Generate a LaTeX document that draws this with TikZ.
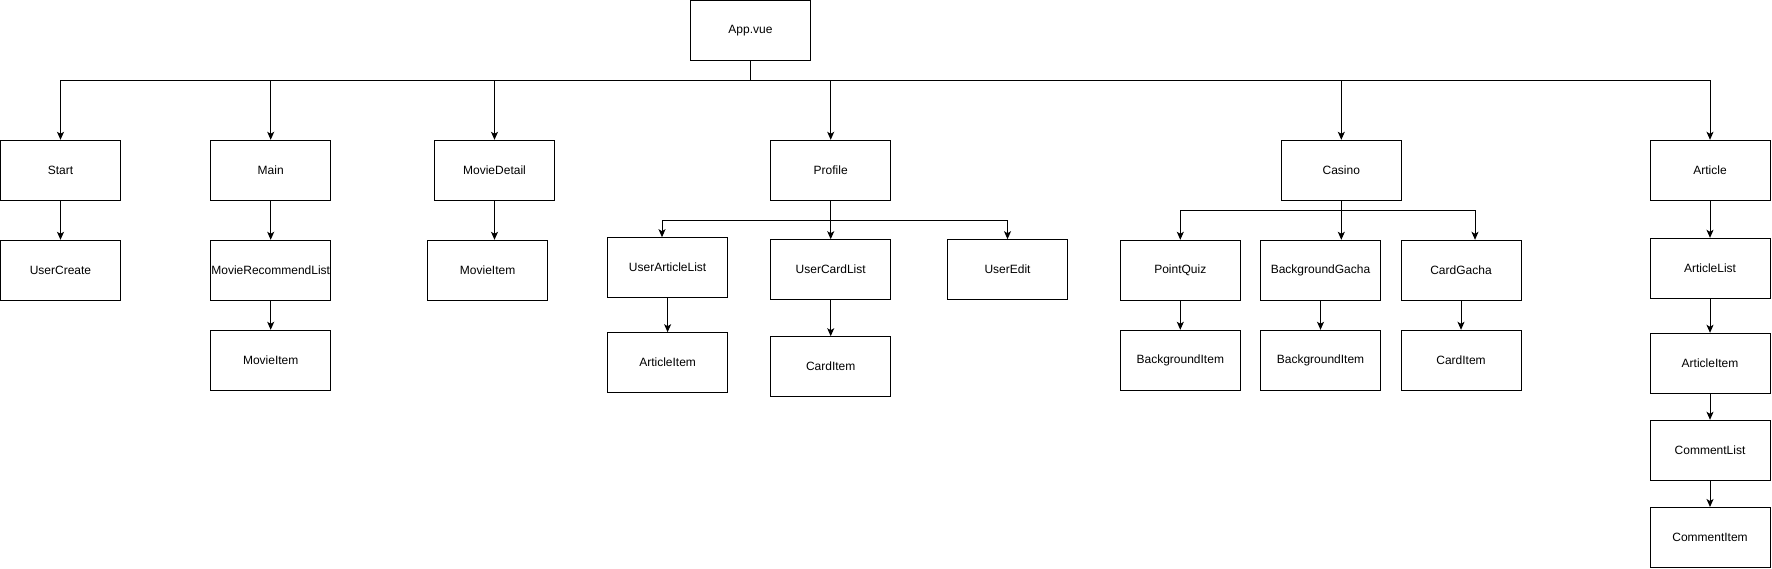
\documentclass[tikz,border=0pt]{standalone}
\usepackage{fontspec}
\setmainfont{Liberation Sans}
\usetikzlibrary{arrows.meta}
\begin{document}
\begin{tikzpicture}[x=1pt,y=-1pt,
  box/.style={draw=black,line width=1pt,minimum width=120pt,minimum height=60pt,inner sep=0pt,font=\fontsize{12}{14}\selectfont},
  arr/.style={draw=black,line width=1pt,-{Stealth[length=8pt,width=7pt,inset=2pt]}}]
\useasboundingbox (0,0) rectangle (1772,569);
% nodes
\node[box] (app) at (750.5,30.3) {App.vue};
\node[box] (start) at (60.5,170.3) {Start};
\node[box] (usercreate) at (60.5,270.3) {UserCreate};
\node[box] (main) at (270.7,170.3) {Main};
\node[box] (mrl) at (270.7,270.3) {MovieRecommendList};
\node[box] (mitemA) at (270.7,360.3) {MovieItem};
\node[box] (mdetail) at (494.5,170.3) {MovieDetail};
\node[box] (mitemB) at (487.6,270.3) {MovieItem};
\node[box] (profile) at (830.7,170.3) {Profile};
\node[box] (ual) at (667.6,267.7) {UserArticleList};
\node[box] (ucl) at (830.7,269.7) {UserCardList};
\node[box] (uedit) at (1007.5,269.7) {UserEdit};
\node[box] (aitemA) at (667.6,362.7) {ArticleItem};
\node[box] (citemA) at (830.7,366.7) {CardItem};
\node[box] (casino) at (1341.3,170.3) {Casino};
\node[box] (pq) at (1180.3,270.3) {PointQuiz};
\node[box] (bg) at (1320.5,270.3) {BackgroundGacha};
\node[box] (cg) at (1461,270.3) {CardGacha};
\node[box] (biA) at (1180.3,360.3) {BackgroundItem};
\node[box] (biB) at (1320.5,360.3) {BackgroundItem};
\node[box] (citemB) at (1461,360.3) {CardItem};
\node[box] (article) at (1710,170.3) {Article};
\node[box] (alist) at (1710,268.3) {ArticleList};
\node[box] (aitemB) at (1710,363.3) {ArticleItem};
\node[box] (clist) at (1710,450.3) {CommentList};
\node[box] (citemC) at (1710,537.5) {CommentItem};
% buses
\coordinate (bus) at (750.5,80.3);
\coordinate (pbus) at (830.7,220.3);
\coordinate (cbus) at (1341.3,210.3);
% top level
\foreach \t in {start,main,mdetail,profile,casino,article}
  \draw[arr] (app.south) -- (bus) -| (\t.north);
% straight chains
\draw[arr] (start.south) -- (usercreate.north);
\draw[arr] (main.south) -- (mrl.north);
\draw[arr] (mrl.south) -- (mitemA.north);
\draw[arr] (mdetail.south) -- (mdetail.south |- mitemB.north);
\draw[arr] (ual.south) -- (aitemA.north);
\draw[arr] (ucl.south) -- (citemA.north);
\draw[arr] (pq.south) -- (biA.north);
\draw[arr] (bg.south) -- (biB.north);
\draw[arr] (cg.south) -- (citemB.north);
\draw[arr] (article.south) -- (alist.north);
\draw[arr] (alist.south) -- (aitemB.north);
\draw[arr] (aitemB.south) -- (clist.north);
\draw[arr] (clist.south) -- (citemC.north);
% profile bus
\draw[arr] (profile.south) -- (pbus) -| ([xshift=-5.6pt]ual.north);
\draw[arr] (profile.south) -- (ucl.north);
\draw[arr] (profile.south) -- (pbus) -| (uedit.north);
% casino bus
\draw[arr] (casino.south) -- (cbus) -| (pq.north);
\draw[arr] (casino.south) -- (casino.south |- bg.north);
\draw[arr] (casino.south) -- (cbus) -| ([xshift=14pt]cg.north);
\end{tikzpicture}
\end{document}
